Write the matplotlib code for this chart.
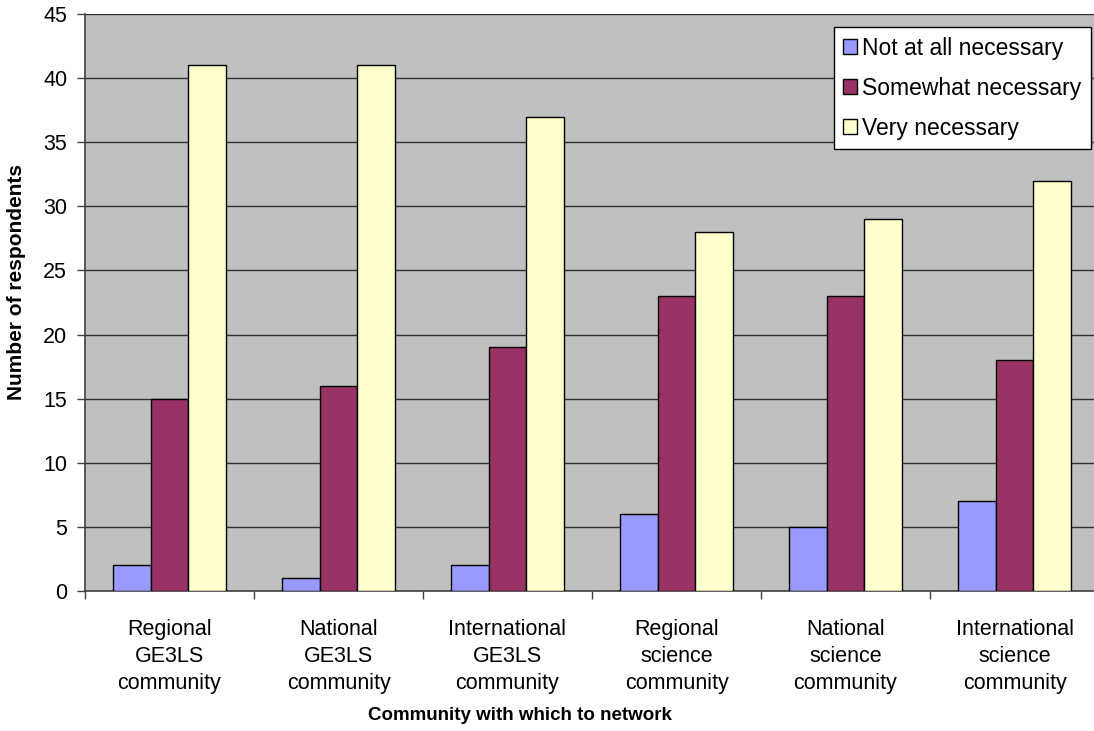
import matplotlib.pyplot as plt
import numpy as np

plt.rcParams['font.family'] = ['Liberation Sans', 'DejaVu Sans']

categories = ["Regional\nGE3LS\ncommunity", "National\nGE3LS\ncommunity",
              "International\nGE3LS\ncommunity", "Regional\nscience\ncommunity",
              "National\nscience\ncommunity", "International\nscience\ncommunity"]
series_names = ["Not at all necessary", "Somewhat necessary", "Very necessary"]
not_at_all = [2, 1, 2, 6, 5, 7]
somewhat = [15, 16, 19, 23, 23, 18]
very = [41, 41, 37, 28, 29, 32]

colors = ['#9999FF', '#993366', '#FFFFCC']


def create_plot():
    fig = plt.figure(figsize=(10.94, 7.31), dpi=100)
    # plot area runs a few pixels past the right edge, like the original export
    ax = fig.add_axes([85 / 1094, 140 / 731, 1014 / 1094, 577 / 731])
    ax.set_facecolor('#C0C0C0')

    x = np.arange(len(categories))
    width = 1 / 4.5  # Excel-style gap width of 150%
    for i, (vals, name) in enumerate(zip([not_at_all, somewhat, very], series_names)):
        ax.bar(x + (i - 1) * width, vals, width, color=colors[i], edgecolor='black',
               linewidth=1.0, label=name, zorder=3)

    ax.set_xlim(-0.5, len(categories) - 0.5)
    ax.set_ylim(0, 45)
    ax.set_yticks(np.arange(0, 46, 5))
    ax.yaxis.grid(True, color='#303030', linewidth=1.0, zorder=0)
    ax.set_axisbelow(True)

    # category ticks on the boundaries, labels centred under each group
    ax.set_xticks(np.arange(-0.5, len(categories)), minor=False)
    ax.set_xticklabels([''] * (len(categories) + 1))
    ax.set_xticks(x, minor=True)
    ax.set_xticklabels(categories, minor=True, fontsize=15.5, linespacing=1.38)
    ax.tick_params(axis='x', which='minor', length=0, pad=20)
    ax.tick_params(axis='x', which='major', length=5.5, width=1, color='#404040')
    ax.tick_params(axis='y', length=5.8, width=1, color='#404040', labelsize=15.5, pad=7)

    for side in ['top', 'right']:
        ax.spines[side].set_visible(False)
    for side in ['left', 'bottom']:
        ax.spines[side].set_color('#404040')
        ax.spines[side].set_linewidth(1.2)

    fig.text(17 / 1094, 1 - 282 / 731, 'Number of respondents', rotation=90,
             fontsize=15, fontweight='bold', ha='center', va='center')
    fig.text(520 / 1094, 1 - 715 / 731, 'Community with which to network',
             fontsize=13.5, fontweight='bold', ha='center', va='center')

    leg = ax.legend(loc='upper right', bbox_to_anchor=(1091 / 1094, 1 - 27 / 731),
                    bbox_transform=fig.transFigure, borderaxespad=0, fancybox=False,
                    framealpha=1, edgecolor='black', fontsize=16.5, handlelength=0.6,
                    handleheight=0.6, handletextpad=0.22, labelspacing=0.74,
                    borderpad=0.42)
    leg.get_frame().set_linewidth(1.0)

    plt.savefig('out.png', dpi=100)


create_plot()
